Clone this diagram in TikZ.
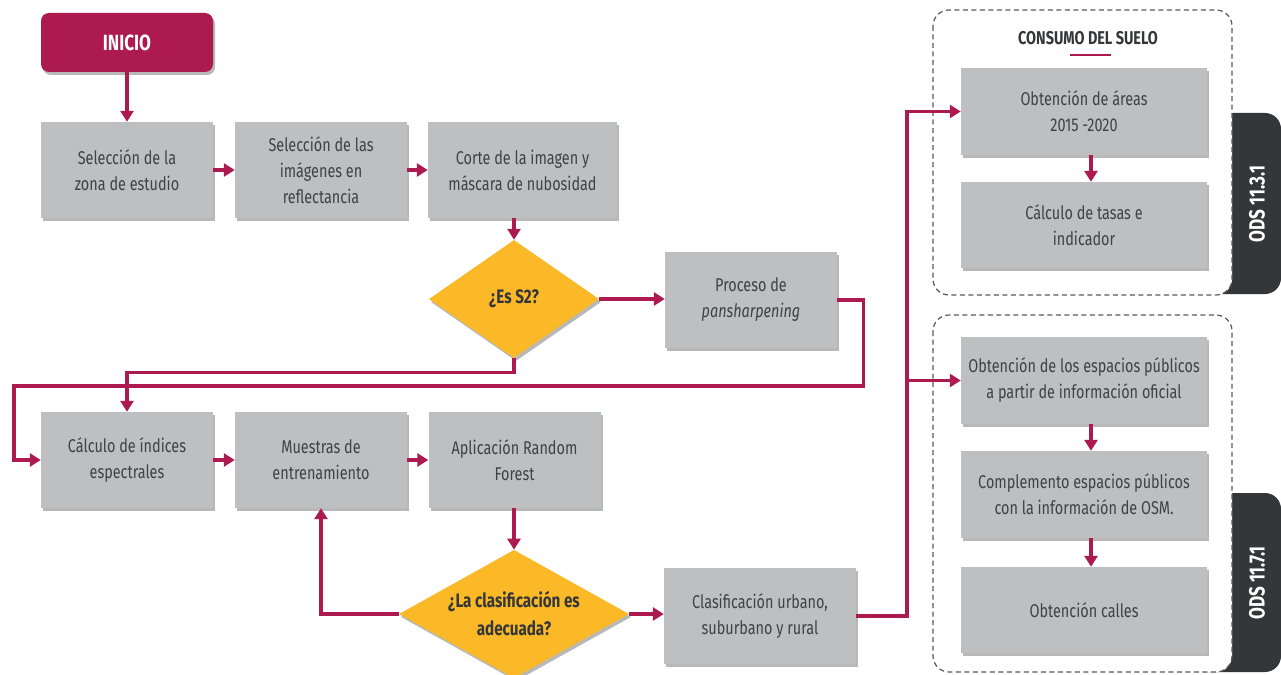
\documentclass[tikz,border=0pt]{standalone}
\usepackage{fontspec}
\setmainfont{Fira Sans}[FakeStretch=0.78]
\usetikzlibrary{arrows.meta,shapes.geometric,shadows}

\definecolor{wine}{HTML}{AD1A50}
\definecolor{boxgray}{HTML}{BDBFC0}
\definecolor{amber}{HTML}{FBB927}
\definecolor{tabdark}{HTML}{34373A}
\definecolor{txtgray}{HTML}{3F4143}

\tikzset{
  shade/.style={drop shadow={shadow xshift=2pt,shadow yshift=-3pt,fill=black,opacity=0.28}},
  proc/.style={rectangle,fill=boxgray,text=txtgray,align=center,inner sep=2pt,
    minimum width=172pt,minimum height=96pt,shade,font=\fontsize{18.5}{26}\selectfont},
  decision/.style={diamond,fill=amber,text=tabdark,align=center,inner sep=-12pt,shade,
    font=\bfseries\fontsize{19.5}{28}\selectfont},
  flow/.style={line width=3.4pt,draw=wine,-{Triangle[length=11pt,width=13pt]}},
  group/.style={draw=black!65,dash pattern=on 5pt off 3.5pt,line width=1.2pt,fill=white,rounded corners=16pt},
  odstab/.style={fill=tabdark,rounded corners=16pt},
  odstext/.style={text=white,rotate=90,font=\bfseries\fontsize{22}{24}\selectfont}
}

\begin{document}
\begin{tikzpicture}[x=1pt,y=-1pt]
  \useasboundingbox (0,0) rectangle (1281,674);

  % ODS tabs behind the groups
  \fill[odstab] (1190,113) rectangle (1281,294);
  \fill[odstab] (1190,493) rectangle (1281,672);
  \draw[group] (933,10) rectangle (1232,295);
  \draw[group] (933,315) rectangle (1232,672);
  \node[odstext] (ods1) at (1257,204) {ODS 11.3.1};
  \node[odstext] (ods2) at (1257,583) {ODS 11.7.1};

  \node[text=tabdark,font=\bfseries\fontsize{18.5}{20}\selectfont] (suelo) at (1088,38) {CONSUMO DEL SUELO};
  \draw[wine,line width=2.5pt] ([xshift=-18pt,yshift=-17pt]suelo.center) -- ([xshift=23pt,yshift=-17pt]suelo.center);

  % main flow
  \node[fill=wine,text=white,rounded corners=8pt,minimum width=172pt,minimum height=59pt,shade,
    font=\bfseries\fontsize{22}{24}\selectfont] (inicio) at (127,42.5) {INICIO};
  \node[proc] (sel) at (127,170) {Selección de la\\zona de estudio};
  \node[proc] (img) at (321,170) {Selección de las\\imágenes en\\reflectancia};
  \node[proc,minimum width=189pt] (corte) at (522.5,170) {Corte de la imagen y\\máscara de nubosidad};
  \node[decision,minimum width=170pt,minimum height=118pt] (s2) at (514,299) {¿Es S2?};
  \node[proc] (pan) at (751,300) {Proceso de\\\textit{pansharpening}};

  \node[proc] (calc) at (127,460) {Cálculo de índices\\espectrales};
  \node[proc] (mues) at (321,460) {Muestras de\\entrenamiento};
  \node[proc] (rf) at (514.5,460) {Aplicación Random\\Forest};
  \node[decision,minimum width=230pt,minimum height=112pt] (q2) at (514,614) {¿La clasificación es\\adecuada?};
  \node[proc,minimum width=192pt] (clas) at (760,616) {Clasificación urbano,\\suburbano y rural};

  % right column
  \node[proc,minimum width=246pt,minimum height=87pt] (area) at (1084,111.5) {Obtención de áreas\\2015 -2020};
  \node[proc,minimum width=246pt,minimum height=86pt] (tasas) at (1084,225) {Cálculo de tasas e\\indicador};
  \node[proc,minimum width=246pt,minimum height=87pt] (pub) at (1084,380.5) {Obtención de los espacios públicos\\a partir de información oficial};
  \node[proc,minimum width=246pt,minimum height=87pt] (osm) at (1084,494.5) {Complemento espacios públicos\\con la información de OSM.};
  \node[proc,minimum width=246pt,minimum height=86pt] (calles) at (1084,610) {Obtención calles};

  % connectors
  \draw[flow] (inicio) -- (sel);
  \foreach \a/\b in {sel/img,img/corte,calc/mues,mues/rf}
    \draw[flow] (\a) -- (\b);
  \draw[flow] (corte.south -| s2.north) -- (s2.north);
  \draw[flow] (s2.east) -- (s2.east -| pan.west);
  \draw[flow] (pan.east) -- ++(26,0) -- ++(0,86) -| ([xshift=-27pt]calc.west) -- (calc.west);
  \draw[flow] (s2.south) -- ++(0,14) -| (calc.north);
  \draw[flow] (rf.south -| q2.north) -- (q2.north);
  \draw[flow] (q2.west) -| (mues.south);
  \draw[flow] (q2.east) -- (q2.east -| clas.west);
  \draw[flow] (clas.east) -| ([xshift=-54pt]area.west) -- (area.west);
  \draw[flow] ([xshift=-54pt]pub.west) -- (pub.west);
  \foreach \a/\b in {area/tasas,pub/osm,osm/calles}
    \draw[flow] ([xshift=7pt]\a.south) -- ([xshift=7pt]\b.north);
\end{tikzpicture}
\end{document}
